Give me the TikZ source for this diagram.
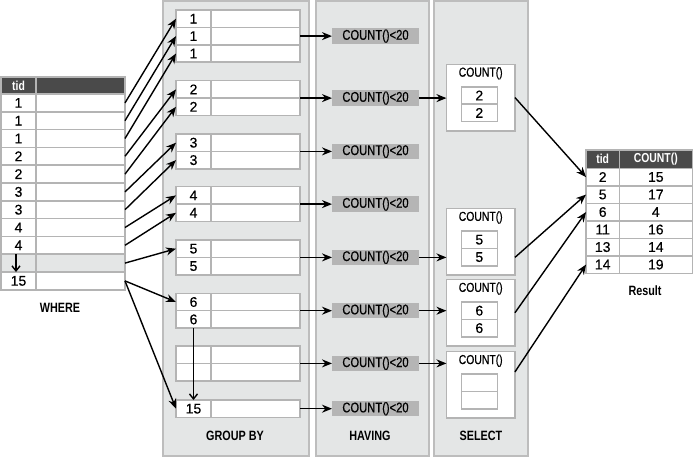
\documentclass[tikz,border=0pt]{standalone}
\usepackage{fontspec}
\setmainfont{Liberation Sans}[FakeStretch=0.8]
\newfontfamily\numfont{Liberation Sans}[FakeBold=0.4]
\newfontfamily\txtfont{Liberation Sans}[FakeStretch=0.8, FakeBold=0.5]
\usetikzlibrary{arrows.meta,positioning,calc}
\definecolor{cellgray}{HTML}{B4B4B4}
\definecolor{panelgray}{HTML}{E4E6E6}
\definecolor{paneledge}{HTML}{BDBDBD}
\definecolor{headgray}{HTML}{4A4A4A}
\definecolor{havegray}{HTML}{B5B5B5}

\begin{document}
\begin{tikzpicture}[
	x={(1pt,0pt)},
	y={(0pt,-1pt)},
	every node/.style={inner sep=0pt, outer sep=0pt, font=\txtfont\fontsize{13}{15}\selectfont},
	cell/.style={draw=cellgray, line width=1.5pt, fill=white, minimum height=17.4pt, font=\numfont\fontsize{14}{16}\selectfont},
	keycell/.style={cell, minimum width=35pt},
	valcell/.style={cell, minimum width=89pt},
	head/.style={fill=headgray, text=white, font=\fontsize{13}{15}\selectfont\bfseries},
	havebox/.style={fill=havegray, minimum width=87pt, minimum height=15.5pt, font=\txtfont\fontsize{14}{16}\selectfont},
	selbox/.style={draw=cellgray, line width=1.5pt, fill=white, minimum width=68.5pt, minimum height=66.5pt},
	panel/.style={draw=paneledge, line width=2pt, fill=panelgray},
	title/.style={font=\fontsize{13.5}{15}\selectfont\bfseries},
	arr/.style={line width=1.4pt, -{Stealth[length=10pt,width=8pt]}},
	varr/.style={line width=1.4pt, -{Straight Barb[length=5pt,width=8pt]}}
	]
	
	\useasboundingbox (0,0) rectangle (694,458);
	
	%------------------------------
	% Background columns
	%------------------------------
	\draw[panel] (163,1) rectangle (309,455.5);
	\draw[panel] (316,1) rectangle (429,456);
	\draw[panel] (434,1) rectangle (528,456);
	
	%------------------------------
	% WHERE table
	%------------------------------
	\node[keycell, head, minimum height=17pt] (wh) at (18.5,85.5) {tid};
	\node[valcell, head, minimum height=17pt] (wvh) at (80.5,85.5) {};
	\foreach \v [count=\i] in {1,1,1,2,2,3,3,4,4,{},15}{
		\ifnum\i=10 \def\rowfill{panelgray}\else\def\rowfill{white}\fi
		\node[keycell, fill=\rowfill, minimum height=17.8pt] (w\i) at (18.5,{94+(\i-0.5)*17.8}) {\v};
		\node[valcell, fill=\rowfill, minimum height=17.8pt] (wv\i) at (80.5,{94+(\i-0.5)*17.8}) {};
	}
	\draw[varr] ([xshift=-2.5pt]w10.north) -- ([xshift=-2.5pt]w10.south);
	\node[title] (where) at (60,307.5) {WHERE};
	
	%------------------------------
	% GROUP BY groups and HAVING tests
	%------------------------------
	\foreach \g/\ty/\n/\v in {1/10/3/1,2/80.7/2/2,3/134/2/3,4/186.7/2/4,5/240/2/5,6/293.3/2/6,7/346/2/{},8/400/1/15}{
		\foreach \r in {1,...,\n}{
			\node[keycell] (g\g-\r) at (193.5,{\ty+(\r-0.5)*17.4}) {\v};
			\node[valcell] (gv\g-\r) at (255.5,{\ty+(\r-0.5)*17.4}) {};
		}
		\coordinate (g\g) at (300,{\ty+\n*8.7});
		\node[havebox, right=32pt of g\g] (h\g) {COUNT()<20};
		\draw[arr] (g\g) -- (h\g);
	}
	\draw[varr] (g6-2.south) -- (g8-1.north);
	\node[title] (groupby) at (235,436) {GROUP BY};
	\node[title] (having) at (370,436) {HAVING};
	
	% rows into their groups
	\foreach \i/\dst in {1/g1-1,2/g1-2,3/g1-3,4/g2-1,5/g2-2,6/g3-1,7/g3-2,8/g4-1,9/g4-2,10/g5-1,11/g6-1,11/g8-1}{
		\draw[arr] (wv\i.east) -- (\dst.west);
	}
	
	%------------------------------
	% SELECT boxes
	%------------------------------
	\foreach \s/\ty/\va/\vb in {1/64.3/2/2,2/208.5/5/5,3/279.5/6/6,4/351.7/{}/{}}{
		\node[selbox] (sel\s) at (480.7,{\ty+33.25}) {};
		\node (st\s) at (480.7,{\ty+9}) {COUNT()};
		\node[cell, minimum width=36pt] (sel\s-1) at (479.3,{\ty+31.2}) {\va};
		\node[cell, minimum width=36pt] (sel\s-2) at (479.3,{\ty+48.6}) {\vb};
	}
	\foreach \h/\s in {2/1,5/2,6/3,7/4}{
		\draw[arr] (h\h) -- (h\h -| sel\s.west);
	}
	\node[title] (select) at (481,436) {SELECT};
	
	%------------------------------
	% Result table
	%------------------------------
	\node[cell, head, minimum width=33.3pt, minimum height=18.3pt] (rh) at (602.7,159.2) {tid};
	\node[cell, head, minimum width=73pt, minimum height=18.3pt] (rhc) at (655.8,159.2) {COUNT()};
	\foreach \tv/\cv [count=\i] in {2/15,5/17,6/4,11/16,13/14,14/19}{
		\node[cell, minimum width=33.3pt, minimum height=17.5pt] (rt\i) at (602.7,{168.3+(\i-0.5)*17.5}) {\tv};
		\node[cell, minimum width=73pt, minimum height=17.5pt] (rc\i) at (655.8,{168.3+(\i-0.5)*17.5}) {\cv};
	}
	\node[title] (result) at (645,291) {Result};
	
	\draw[arr] (sel1.east) -- (rt1.west);
	\draw[arr] (sel2.east |- h5) -- (rt2.west);
	\draw[arr] (sel3.east) -- (rt3.west);
	\draw[arr] ([yshift=13pt]sel4.east) -- (rt6.west);
\end{tikzpicture}
\end{document}
